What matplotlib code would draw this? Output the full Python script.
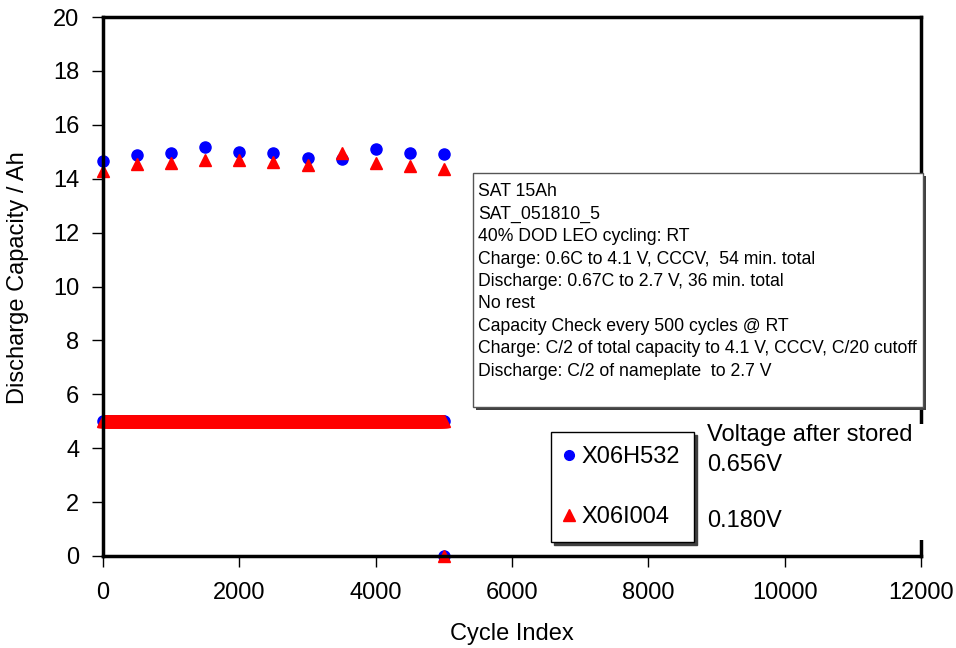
import numpy as np
import matplotlib
matplotlib.use('Agg')
from matplotlib import pyplot as plt
from matplotlib.patches import Rectangle
from matplotlib.lines import Line2D

plt.rcParams['font.family'] = ['Liberation Sans', 'DejaVu Sans']

# capacity checks every 500 cycles
check_cycles = [0, 500, 1000, 1500, 2000, 2500, 3000, 3500, 4000, 4500, 5000]
cap_h532 = [14.65, 14.88, 14.97, 15.16, 15.0, 14.95, 14.75, 14.74, 15.1, 14.97, 14.9]
cap_i004 = [14.3, 14.54, 14.58, 14.69, 14.69, 14.62, 14.5, 14.96, 14.6, 14.47, 14.36]

# LEO cycling discharge capacity (40% DOD) between checks
leo_cycles = np.arange(0, 5001, 10)
leo_cap = np.full(leo_cycles.size, 5.0)

# after storage
stored_cycle = [5000]
stored_h532 = [0.0]
stored_i004 = [0.0]

names = ['X06H532', 'X06I004']
volts = ['0.656V', '0.180V']
info = ['SAT 15Ah',
        'SAT_051810_5',
        '40% DOD LEO cycling: RT',
        'Charge: 0.6C to 4.1 V, CCCV,  54 min. total',
        'Discharge: 0.67C to 2.7 V, 36 min. total',
        'No rest',
        'Capacity Check every 500 cycles @ RT',
        'Charge: C/2 of total capacity to 4.1 V, CCCV, C/20 cutoff',
        'Discharge: C/2 of nameplate  to 2.7 V']

fig = plt.figure(figsize=(9.56, 6.48), dpi=100)
ax = fig.add_axes([103/956, 1-556/648, (921-103)/956, (556-17)/648])

ax.plot(leo_cycles, leo_cap, 'o', color='blue', ms=8, clip_on=False)
ax.plot(check_cycles, cap_h532, 'o', color='blue', ms=8, clip_on=False)
ax.plot(stored_cycle, stored_h532, 'o', color='blue', ms=8, clip_on=False)
ax.plot(leo_cycles, leo_cap, '^', color='red', ms=9, clip_on=False)
ax.plot(check_cycles, cap_i004, '^', color='red', ms=9, clip_on=False)
ax.plot(stored_cycle, stored_i004, '^', color='red', ms=9, clip_on=False)

ax.set_xlim(0, 12000)
ax.set_ylim(0, 20)
ax.set_xticks(np.arange(0, 12001, 2000))
ax.set_yticks(np.arange(0, 21, 2))
ax.tick_params(direction='out', length=8, width=1, labelsize=17)
ax.tick_params(axis='x', pad=11)
ax.tick_params(axis='y', pad=9)
for s in ax.spines.values():
	s.set_linewidth(2.5)
ax.set_xlabel('Cycle Index', fontsize=17)
ax.set_ylabel('Discharge Capacity / Ah', fontsize=17)
ax.xaxis.set_label_coords(0.5, -(634-556)/539)
ax.yaxis.set_label_coords(-(103-18)/818, 0.517)
ax.xaxis.label.set_va('center')
ax.yaxis.label.set_va('center')

# info box with shadow
bx0, by0, bw, bh = 473/956, 1-407/648, (923-473)/956, (407-173)/648
fig.patches.append(Rectangle((bx0+3/956, by0-3/648), bw, bh, transform=fig.transFigure,
	facecolor='#404040', edgecolor='none', zorder=5))
fig.patches.append(Rectangle((bx0, by0), bw, bh, transform=fig.transFigure,
	facecolor='white', edgecolor='#555555', lw=1, zorder=6))
for i, line in enumerate(info):
	fig.text(478/956, 1-(192+i*22.4)/648, line, fontsize=12.7, va='center', ha='left', zorder=7)

# voltage text (white box covers right spine)
fig.patches.append(Rectangle((704/956, 1-540/648), 224/956, (540-424)/648, transform=fig.transFigure,
	facecolor='white', edgecolor='none', zorder=4))
fig.text(707/956, 1-435/648, 'Voltage after stored', fontsize=17, va='center', zorder=7)
fig.text(707/956, 1-465/648, volts[0], fontsize=17, va='center', zorder=7)
fig.text(707/956, 1-521/648, volts[1], fontsize=17, va='center', zorder=7)

handles = [Line2D([], [], ls='none', marker='o', color='blue', ms=7),
	Line2D([], [], ls='none', marker='^', color='red', ms=8)]
leg = ax.legend(handles, names, loc='upper left', bbox_to_anchor=(551/956, 1-432/648),
	bbox_transform=fig.transFigure, fontsize=17, labelspacing=1.6, handlelength=0.35,
	handletextpad=0.35, borderpad=0.6, borderaxespad=0, fancybox=False,
	shadow={'color': '#404040', 'alpha': 1, 'ox': 2, 'oy': -2},
	framealpha=1, edgecolor='black')
leg.get_frame().set_linewidth(1)
leg.set_zorder(8)

fig.savefig('out.png', dpi=100)
